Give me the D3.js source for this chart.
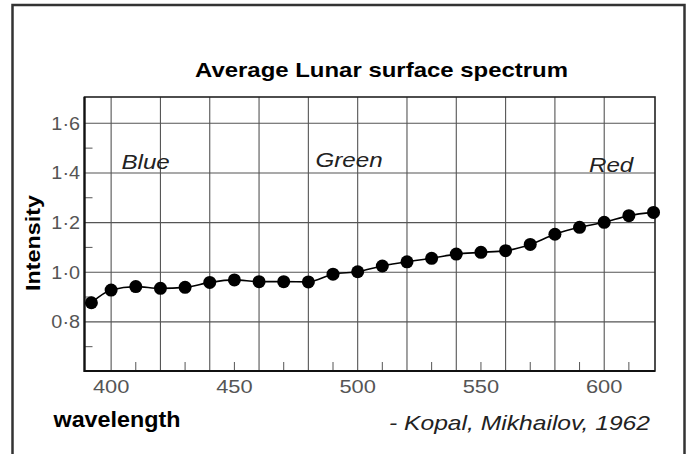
<!DOCTYPE html>
<html>
<head>
<meta charset="utf-8">
<script src="https://cdn.jsdelivr.net/npm/d3@7"></script>
<style>
  body { margin: 0; background: #fff; }
  svg { display: block; }
</style>
</head>
<body>
<div class="viewbox"></div>
<script>
// data (relative intensity per wavelength, nm)
const wavelengths = [392, 400, 410, 420, 430, 440, 450, 460, 470, 480, 490, 500,
  510, 520, 530, 540, 550, 560, 570, 580, 590, 600, 610, 620]
const intensity = [0.877, 0.928, 0.942, 0.935, 0.939, 0.959, 0.969, 0.962, 0.962, 0.961,
  0.992, 1.002, 1.025, 1.042, 1.056, 1.073, 1.080, 1.087, 1.112, 1.153, 1.181, 1.201,
  1.228, 1.241]

const xGrid = [400, 420, 440, 460, 480, 500, 520, 540, 560, 580, 600]
const xMinor = [410, 430, 450, 470, 490, 510, 530, 550, 570, 590, 610]
const xLabels = [400, 450, 500, 550, 600]
const yGrid = [0.8, 1.0, 1.2, 1.4, 1.6]
const yMinor = [0.7, 0.9, 1.1, 1.3, 1.5]

const colourBands = [
  { name: "Blue", nm: 414, v: 1.414 },
  { name: "Green", nm: 496.5, v: 1.425 },
  { name: "Red", nm: 602.8, v: 1.405 }
]

const svg_width = 689
const svg_height = 454

let svg = d3.select(".viewbox")
  .append("svg")
  .attr("width", svg_width)
  .attr("height", svg_height)

let x = d3.scaleLinear().domain([389.2, 620.6]).range([84.5, 655])
let y = d3.scaleLinear().domain([0.602, 1.706]).range([371, 97])

// the scan is stretched sideways, so text gets widened a bit
function stretch(sel, factor) {
  sel.each(function () {
    let len = this.getComputedTextLength()
    d3.select(this).attr("textLength", len * factor).attr("lengthAdjust", "spacingAndGlyphs")
  })
}

// outer frame
svg.append("rect")
  .attr("x", 12.5).attr("y", 5)
  .attr("width", 672).attr("height", 470)
  .attr("fill", "none")
  .attr("stroke", "#333")
  .attr("stroke-width", 2.5)

let title = svg.append("text")
  .attr("x", 195).attr("y", 77)
  .style("font-family", "'Liberation Sans', Arial, sans-serif")
  .style("font-weight", "bold")
  .style("font-size", "21px")
  .text("Average Lunar surface spectrum")
title.attr("textLength", 373).attr("lengthAdjust", "spacingAndGlyphs")

// grid
svg.selectAll("line.vgrid")
  .data(xGrid)
  .enter()
  .append("line")
  .attr("class", "vgrid")
  .attr("x1", d => x(d)).attr("x2", d => x(d))
  .attr("y1", y.range()[1]).attr("y2", y.range()[0])
  .attr("stroke", "#555")
  .attr("stroke-width", 1.1)

svg.selectAll("line.hgrid")
  .data(yGrid)
  .enter()
  .append("line")
  .attr("class", "hgrid")
  .attr("x1", x.range()[0]).attr("x2", x.range()[1])
  .attr("y1", d => y(d)).attr("y2", d => y(d))
  .attr("stroke", "#555")
  .attr("stroke-width", 1.1)

// minor ticks pointing inwards
svg.selectAll("line.xminor")
  .data(xMinor)
  .enter()
  .append("line")
  .attr("x1", d => x(d)).attr("x2", d => x(d))
  .attr("y1", y.range()[0]).attr("y2", y.range()[0] - 9)
  .attr("stroke", "#555")

svg.selectAll("line.yminor")
  .data(yMinor)
  .enter()
  .append("line")
  .attr("x1", x.range()[0]).attr("x2", x.range()[0] + 8)
  .attr("y1", d => y(d)).attr("y2", d => y(d))
  .attr("stroke", "#555")

// plot border
svg.append("rect")
  .attr("x", x.range()[0]).attr("y", y.range()[1])
  .attr("width", x.range()[1] - x.range()[0])
  .attr("height", y.range()[0] - y.range()[1])
  .attr("fill", "none")
  .attr("stroke", "#222")
  .attr("stroke-width", 1.6)

// left and bottom axis are drawn heavier
svg.append("line")
  .attr("x1", x.range()[0]).attr("x2", x.range()[0])
  .attr("y1", y.range()[1]).attr("y2", y.range()[0] + 1)
  .attr("stroke", "#111").attr("stroke-width", 2.2)
svg.append("line")
  .attr("x1", x.range()[0]).attr("x2", x.range()[1])
  .attr("y1", y.range()[0]).attr("y2", y.range()[0])
  .attr("stroke", "#111").attr("stroke-width", 2.2)

// tick labels
let xl = svg.selectAll("text.xlab")
  .data(xLabels)
  .enter()
  .append("text")
  .attr("class", "xlab")
  .attr("x", d => x(d))
  .attr("y", 393)
  .attr("text-anchor", "middle")
  .style("font-family", "'Liberation Sans', Arial, sans-serif")
  .style("font-size", "19px")
  .style("fill", "#555")
  .text(d => d)
stretch(xl, 1.15)

let yl = svg.selectAll("text.ylab")
  .data(yGrid)
  .enter()
  .append("text")
  .attr("class", "ylab")
  .attr("x", 80)
  .attr("y", d => y(d) + 6.5)
  .attr("text-anchor", "end")
  .style("font-family", "'Liberation Sans', Arial, sans-serif")
  .style("font-size", "18px")
  .style("fill", "#555")
  .text(d => d3.format(".1f")(d).replace(".", "·"))
stretch(yl, 1.1)

// colour region labels
let bands = svg.selectAll("text.band")
  .data(colourBands)
  .enter()
  .append("text")
  .attr("class", "band")
  .attr("x", d => x(d.nm))
  .attr("y", d => y(d.v))
  .attr("text-anchor", "middle")
  .style("font-family", "'Liberation Sans', Arial, sans-serif")
  .style("font-style", "italic")
  .style("font-size", "21px")
  .style("fill", "#222")
  .text(d => d.name)
stretch(bands, 1.15)

// the measured curve
let line = d3.line()
  .x((d, i) => x(wavelengths[i]))
  .y(d => y(d))
  .curve(d3.curveMonotoneX)

svg.append("path")
  .datum(intensity)
  .attr("d", line)
  .attr("fill", "none")
  .attr("stroke", "#000")
  .attr("stroke-width", 1.6)

svg.selectAll("circle.pt")
  .data(intensity)
  .enter()
  .append("circle")
  .attr("class", "pt")
  .attr("cx", (d, i) => x(wavelengths[i]))
  .attr("cy", d => y(d))
  .attr("r", 6.5)
  .attr("fill", "#000")

// axis titles
svg.append("text")
  .attr("transform", "translate(40,243) rotate(-90)")
  .attr("text-anchor", "middle")
  .style("font-family", "'Liberation Sans', Arial, sans-serif")
  .style("font-weight", "bold")
  .style("font-size", "21px")
  .attr("textLength", 96)
  .attr("lengthAdjust", "spacingAndGlyphs")
  .text("Intensity")

svg.append("text")
  .attr("x", 53.5).attr("y", 426.5)
  .style("font-family", "'Liberation Sans', Arial, sans-serif")
  .style("font-weight", "bold")
  .style("font-size", "22px")
  .attr("textLength", 127)
  .attr("lengthAdjust", "spacingAndGlyphs")
  .text("wavelength")

svg.append("text")
  .attr("x", 389).attr("y", 430)
  .style("font-family", "'Liberation Sans', Arial, sans-serif")
  .style("font-style", "italic")
  .style("font-size", "21px")
  .style("fill", "#222")
  .attr("textLength", 261)
  .attr("lengthAdjust", "spacingAndGlyphs")
  .text("- Kopal, Mikhailov, 1962")
</script>
</body>
</html>
